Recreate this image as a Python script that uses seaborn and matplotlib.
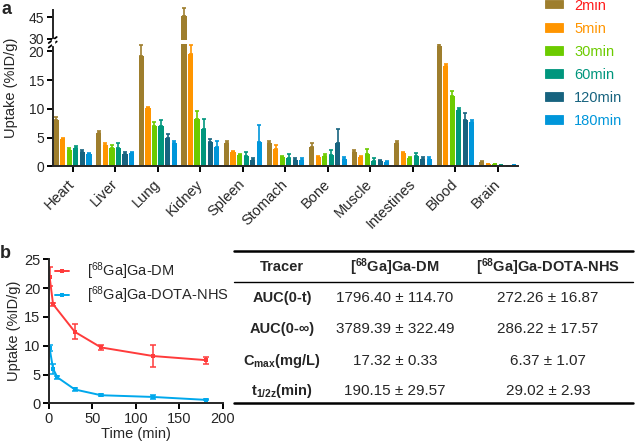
import numpy as np
import pandas as pd
import matplotlib
matplotlib.use("Agg")
import matplotlib.pyplot as plt
from matplotlib.lines import Line2D
from matplotlib.patches import Patch
import seaborn as sns

# ---------------- data: panel a ----------------
organs = ["Heart", "Liver", "Lung", "Kidney", "Spleen", "Stomach", "Bone",
          "Muscle", "Intestines", "Blood", "Brain"]
time_points = ["2min", "5min", "30min", "60min", "120min", "180min"]

uptake_2min = [8.1, 5.9, 19.3, 46.0, 4.0, 4.0, 3.4, 2.6, 4.1, 21.0, 0.8]
uptake_5min = [4.7, 3.7, 10.1, 19.5, 2.5, 3.0, 1.7, 1.6, 2.3, 17.5, 0.4]
uptake_30min = [2.9, 3.3, 7.0, 8.3, 2.0, 1.6, 1.8, 2.1, 1.4, 12.3, 0.35]
uptake_60min = [3.2, 3.3, 7.0, 6.6, 1.9, 1.5, 2.0, 1.0, 1.8, 9.9, 0.25]
uptake_120min = [2.6, 2.2, 5.0, 4.3, 1.1, 1.2, 4.0, 0.9, 1.3, 8.1, 0.1]
uptake_180min = [2.2, 2.3, 4.1, 3.4, 4.2, 1.2, 1.3, 0.7, 1.3, 7.8, 0.25]

sd_2min = [0.5, 0.3, 1.9, 5.5, 0.4, 0.4, 0.6, 0.3, 0.3, 0.3, 0.2]
sd_5min = [0.2, 0.3, 0.3, 1.7, 0.2, 0.8, 0.2, 0.2, 0.2, 0.3, 0.1]
sd_30min = [0.3, 0.5, 0.7, 1.3, 0.2, 0.3, 0.4, 0.9, 0.3, 0.9, 0.1]
sd_60min = [0.4, 0.7, 1.1, 1.6, 0.6, 0.7, 0.8, 0.5, 0.6, 0.3, 0.05]
sd_120min = [0.2, 0.3, 0.6, 0.5, 0.3, 0.2, 2.5, 0.3, 0.3, 1.2, 0.05]
sd_180min = [0.2, 0.3, 0.4, 1.1, 3.0, 0.2, 0.4, 0.3, 0.3, 0.2, 0.05]

# ---------------- data: panel b ----------------
tracers = ["[$^{68}$Ga]Ga-DM", "[$^{68}$Ga]Ga-DOTA-NHS"]
dm_time = [1, 5, 30, 60, 120, 180]
dm_uptake = [22.0, 17.2, 12.4, 9.7, 8.2, 7.5]
dm_sd = [1.6, 0.3, 1.3, 0.5, 1.9, 0.6]
nhs_time = [1, 5, 10, 30, 60, 120, 180]
nhs_uptake = [9.6, 6.0, 4.5, 2.4, 1.4, 1.1, 0.6]
nhs_sd = [0.6, 0.9, 0.3, 0.2, 0.15, 0.4, 0.1]

# ---------------- data: table ----------------
table_header = ["Tracer", r"[$^{\mathbf{68}}$Ga]Ga-DM", r"[$^{\mathbf{68}}$Ga]Ga-DOTA-NHS"]
table_params = ["AUC(0-t)", "AUC(0-∞)", r"C$_{\mathbf{max}}$(mg/L)", r"t$_{\mathbf{1/2z}}$(min)"]
table_dm = ["1796.40 ± 114.70", "3789.39 ± 322.49", "17.32 ± 0.33", "190.15 ± 29.57"]
table_nhs = ["272.26 ± 16.87", "286.22 ± 17.57", "6.37 ± 1.07", "29.02 ± 2.93"]

# ---------------- styles ----------------
bar_colors = ["#9E7E2D", "#FF9500", "#6CCB00", "#00967D", "#17637F", "#0096DA"]
legend_text_colors = ["#FF1A1A", "#FF9500", "#6CCB00", "#00967D", "#17637F", "#0096DA"]
line_colors = ["#FF3B3B", "#00A8EC"]

sns.set_style("ticks")
plt.rcParams["font.family"] = ["Liberation Sans", "DejaVu Sans"]
plt.rcParams["mathtext.fontset"] = "custom"
plt.rcParams["mathtext.rm"] = "Liberation Sans"
plt.rcParams["mathtext.bf"] = "Liberation Sans:bold"
plt.rcParams["mathtext.it"] = "Liberation Sans:italic"
plt.rcParams["axes.linewidth"] = 1.4

W_PX, H_PX = 635, 448
fig = plt.figure(figsize=(W_PX / 100, H_PX / 100), dpi=100)


def fx(px):
    return px / W_PX


def fy(py):
    return 1 - py / H_PX


means = [uptake_2min, uptake_5min, uptake_30min, uptake_60min, uptake_120min, uptake_180min]
sds = [sd_2min, sd_5min, sd_30min, sd_60min, sd_120min, sd_180min]

rows = []
for tp, vals in zip(time_points, means):
    for o, v in zip(organs, vals):
        rows.append({"Organ": o, "Time": tp, "Uptake": v})
df_a = pd.DataFrame(rows)

left, right = 52.7, 518
ax_lo = fig.add_axes([fx(left), fy(166.5), fx(right - left), (166.5 - 44) / H_PX])
ax_hi = fig.add_axes([fx(left), fy(39.7), fx(right - left), (39.7 - 10.4) / H_PX])
lo_lim = (0, 21.3)
hi_lim = (29.5, 49.8)

for ax, lim in ((ax_lo, lo_lim), (ax_hi, hi_lim)):
    sns.barplot(data=df_a, x="Organ", y="Uptake", hue="Time", order=organs,
                hue_order=time_points, palette=bar_colors, width=0.92, gap=0.22,
                errorbar=None, legend=False, ax=ax, linewidth=0, saturation=1)
    bars = list(ax.containers)
    for cont, errs, col in zip(bars, sds, bar_colors):
        xs = np.array([b.get_x() + b.get_width() / 2 for b in cont])
        ys = np.array([b.get_height() for b in cont])
        errs = np.array(errs)
        keep = ys >= lim[0]
        if not keep.any():
            continue
        ax.errorbar(xs[keep], ys[keep], yerr=[np.zeros(keep.sum()), errs[keep]],
                    fmt="none", ecolor=col, elinewidth=1.2, capsize=1.6, capthick=1.2,
                    clip_on=(ax is ax_lo))
    ax.set_ylim(*lim)
    ax.set_xlim(-0.47, len(organs) - 0.53)
    ax.set_xlabel("")
    ax.set_ylabel("")
    sns.despine(ax=ax)
    ax.tick_params(axis="both", length=4, width=1.4, labelsize=10, pad=2, color="black")

ax_lo.set_yticks([0, 5, 10, 15, 20])
ax_hi.set_yticks([30, 45])
ax_hi.spines["bottom"].set_visible(False)
ax_hi.set_xticks([])
ax_lo.set_xticks(range(len(organs)))
ax_lo.set_xticklabels(organs, rotation=45, ha="right", va="center",
                      rotation_mode="anchor", fontsize=10.5)
ax_lo.tick_params(axis="x", pad=7)

# break marks on y axis
for yy in (44.5, 49.0):
    fig.add_artist(Line2D([fx(left - 4), fx(left + 4)], [fy(yy - 3.5 + 2), fy(yy - 3.5 - 6 + 2)],
                          transform=fig.transFigure, color="black", lw=1.3))
fig.add_artist(Line2D([fx(left), fx(left)], [fy(40), fy(44)], transform=fig.transFigure,
                      color="white", lw=2.5))

fig.text(fx(11), fy(88), "Uptake (%ID/g)", rotation=90, ha="center", va="center", fontsize=10.5)
fig.text(fx(1), fy(9), "a", fontsize=13, fontweight="bold", ha="left", va="center")

handles = [Patch(facecolor=c, edgecolor=c, linewidth=0.6) for c in bar_colors]
leg = fig.legend(handles, time_points, loc="upper left", bbox_to_anchor=(fx(545), fy(-1.5)),
                 frameon=False, fontsize=10.5, handlelength=1.25, handleheight=0.5,
                 handletextpad=0.75, labelspacing=0.62, borderpad=0, borderaxespad=0)
for t, c in zip(leg.get_texts(), legend_text_colors):
    t.set_color(c)

# ---------------- panel b ----------------
df_b = pd.concat([
    pd.DataFrame({"Time": dm_time, "Uptake": dm_uptake, "Tracer": tracers[0]}),
    pd.DataFrame({"Time": nhs_time, "Uptake": nhs_uptake, "Tracer": tracers[1]}),
])
ax_b = fig.add_axes([fx(48.7), fy(403.3), fx(223 - 48.7), (403.3 - 259.3) / H_PX])
sns.lineplot(data=df_b, x="Time", y="Uptake", hue="Tracer", hue_order=tracers,
             palette=line_colors, marker="s", markersize=3, markeredgewidth=0,
             errorbar=None, linewidth=1.4, ax=ax_b)
for t, u, s, c in ((dm_time, dm_uptake, dm_sd, line_colors[0]),
                   (nhs_time, nhs_uptake, nhs_sd, line_colors[1])):
    ax_b.errorbar(t, u, yerr=s, fmt="none", ecolor=c, elinewidth=1.1, capsize=2, capthick=1.1)
ax_b.set_xlim(0, 200)
ax_b.set_ylim(0, 25)
ax_b.set_xticks([0, 50, 100, 150, 200])
ax_b.set_yticks([0, 5, 10, 15, 20, 25])
sns.despine(ax=ax_b)
ax_b.tick_params(axis="both", length=4, width=1.4, labelsize=10.5, pad=2, color="black")
ax_b.set_xlabel("Time (min)", fontsize=10.5, labelpad=1)
ax_b.set_ylabel("Uptake (%ID/g)", fontsize=10.5, labelpad=2)
ax_b.legend(loc="upper left", bbox_to_anchor=(0.035, 0.995), frameon=False, fontsize=10.5,
            handlelength=1.0, handletextpad=1.2, labelspacing=0.2, borderpad=0, borderaxespad=0)
fig.text(fx(0), fy(254), "b", fontsize=13, fontweight="bold", ha="left", va="center")

# ---------------- table ----------------
t_left, t_right = 234, 633
col_x = [282, 395, 548]
fig.add_artist(Line2D([fx(t_left), fx(t_right)], [fy(250.7)] * 2, transform=fig.transFigure,
                      color="black", lw=1.8))
fig.add_artist(Line2D([fx(t_left), fx(t_right)], [fy(282.3)] * 2, transform=fig.transFigure,
                      color="black", lw=1.0))
fig.add_artist(Line2D([fx(t_left), fx(t_right)], [fy(402.7)] * 2, transform=fig.transFigure,
                      color="black", lw=1.8))
for x, h in zip(col_x, table_header):
    fig.text(fx(x), fy(266.7), h, ha="center", va="center", fontsize=10.5, fontweight="bold")
row_y = [298.3, 329.3, 361, 391]
for y, p, d, n in zip(row_y, table_params, table_dm, table_nhs):
    fig.text(fx(col_x[0]), fy(y), p, ha="center", va="center", fontsize=10.5, fontweight="bold")
    fig.text(fx(col_x[1]), fy(y), d, ha="center", va="center", fontsize=11)
    fig.text(fx(col_x[2]), fy(y), n, ha="center", va="center", fontsize=11)

fig.savefig("out.png", dpi=100)
